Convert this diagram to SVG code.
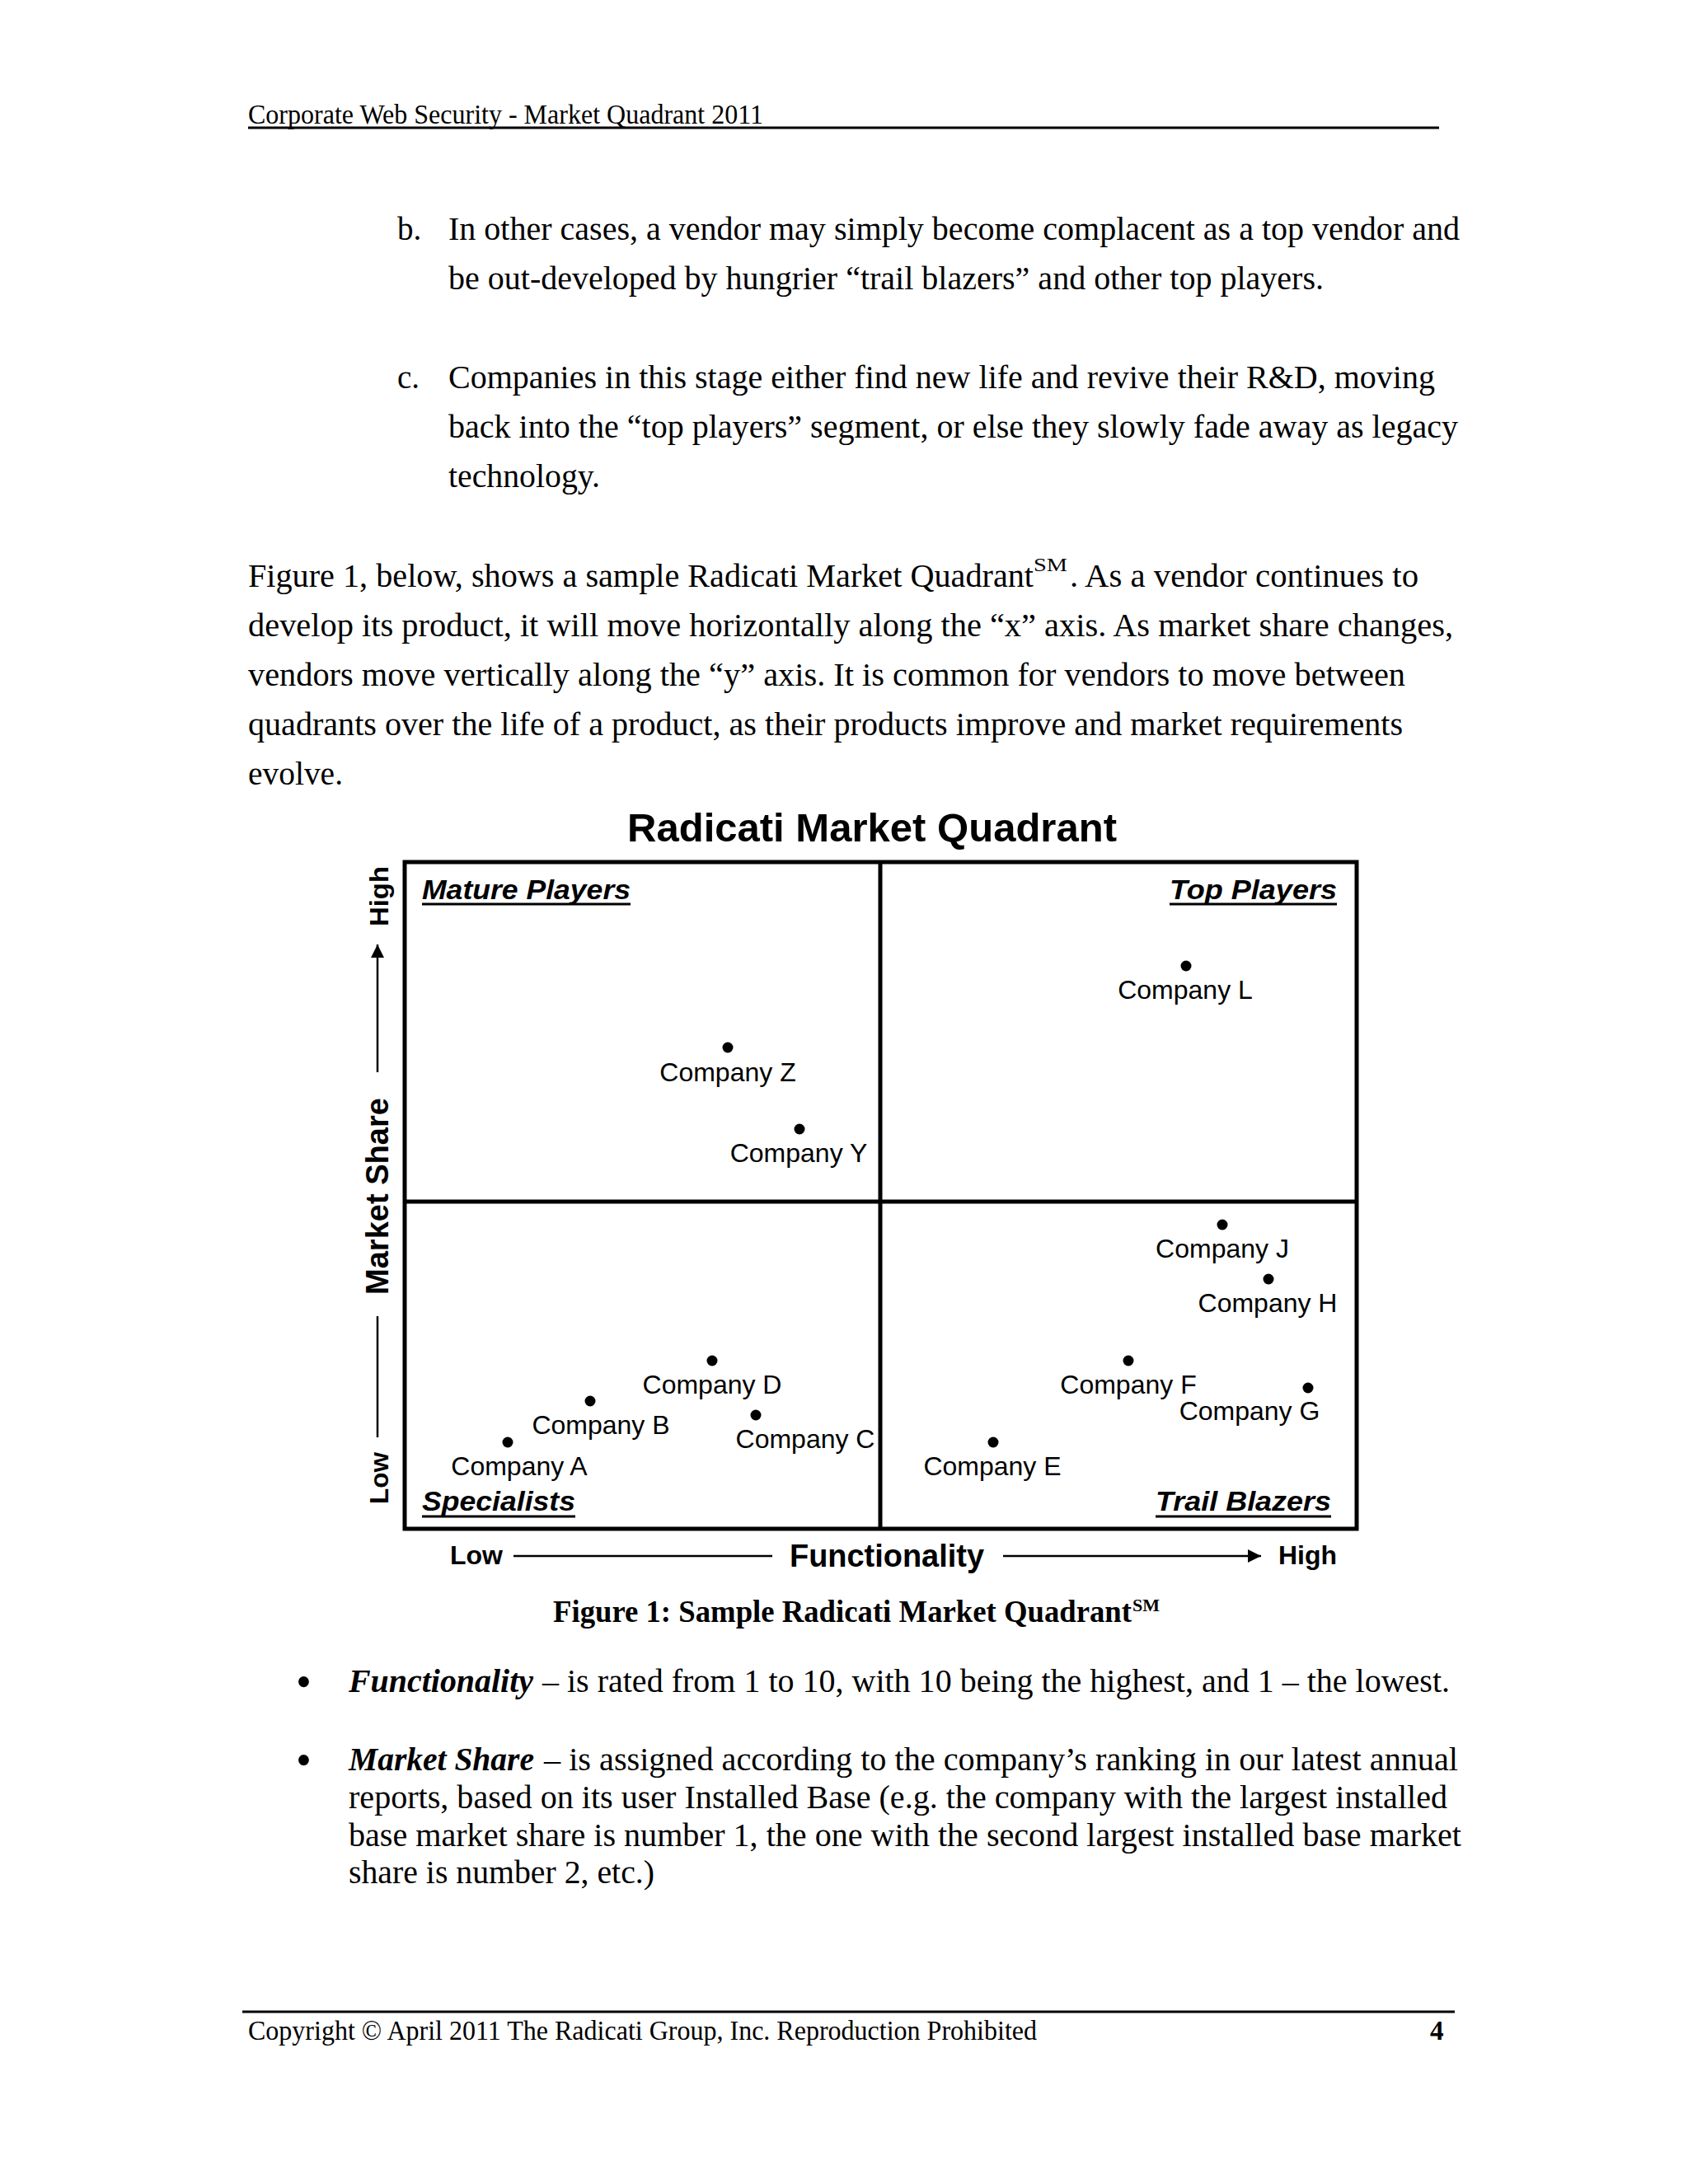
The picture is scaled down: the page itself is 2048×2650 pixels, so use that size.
<svg xmlns="http://www.w3.org/2000/svg" width="2048" height="2650" viewBox="0 0 2048 2650">
<defs>
<style>
.serif{font-family:"Liberation Serif","Times New Roman",serif;fill:#000}
.body{font-size:39px}
.small{font-size:33px}
.bul{font-size:54px}
.sans{font-family:"Liberation Sans",Arial,sans-serif;fill:#000}
.co{font-size:32px;text-anchor:middle}
.ql{font-size:34px;font-weight:bold;font-style:italic}
.ax{font-size:31px;font-weight:bold}
.axb{font-size:38px;font-weight:bold}
.rule{stroke:#000;stroke-width:3;fill:none}
.frame{stroke:#000;stroke-width:5;fill:none}
.ul{stroke:#000;stroke-width:3}
.axis{stroke:#000;stroke-width:2.5;fill:none}
.dot{fill:#000}
</style>
<marker id="arr" markerUnits="userSpaceOnUse" markerWidth="16" markerHeight="16" viewBox="0 0 16 16" refX="16" refY="8" orient="auto">
<path d="M0,0 L16,8 L0,16 z" fill="#000"/>
</marker>
</defs>
<rect x="0" y="0" width="2048" height="2650" fill="#fff"/>

<g id="header">
<text class="serif small" x="301" y="150" textLength="625" lengthAdjust="spacingAndGlyphs">Corporate Web Security - Market Quadrant 2011</text>
<line class="rule" x1="301" y1="155" x2="1746" y2="155"/>
</g>

<g id="body-text" class="serif body">
<text x="482" y="291">b.</text>
<text x="544" y="291" textLength="1227" lengthAdjust="spacingAndGlyphs">In other cases, a vendor may simply become complacent as a top vendor and</text>
<text x="544" y="351" textLength="1062" lengthAdjust="spacingAndGlyphs">be out-developed by hungrier “trail blazers” and other top players.</text>
<text x="482" y="471">c.</text>
<text x="544" y="471" textLength="1197" lengthAdjust="spacingAndGlyphs">Companies in this stage either find new life and revive their R&amp;D, moving</text>
<text x="544" y="531" textLength="1225" lengthAdjust="spacingAndGlyphs">back into the “top players” segment, or else they slowly fade away as legacy</text>
<text x="544" y="591" textLength="184" lengthAdjust="spacingAndGlyphs">technology.</text>
<text x="301" y="712" textLength="953" lengthAdjust="spacingAndGlyphs">Figure 1, below, shows a sample Radicati Market Quadrant</text>
<text x="1254" y="693" font-size="23" textLength="41" lengthAdjust="spacingAndGlyphs">SM</text>
<text x="1298" y="712" textLength="423" lengthAdjust="spacingAndGlyphs">.  As a vendor continues to</text>
<text x="301" y="772" textLength="1462" lengthAdjust="spacingAndGlyphs">develop its product, it will move horizontally along the “x” axis.  As market share changes,</text>
<text x="301" y="832" textLength="1404" lengthAdjust="spacingAndGlyphs">vendors move vertically along the “y” axis.  It is common for vendors to move between</text>
<text x="301" y="892" textLength="1401" lengthAdjust="spacingAndGlyphs">quadrants over the life of a product, as their products improve and market requirements</text>
<text x="301" y="952" textLength="115" lengthAdjust="spacingAndGlyphs">evolve.</text>
</g>

<g id="chart-title">
<text class="sans" x="761" y="1021" font-size="48" font-weight="bold" textLength="594" lengthAdjust="spacingAndGlyphs">Radicati Market Quadrant</text>
</g>

<g id="quadrant-frame">
<rect class="frame" x="491" y="1046" width="1155" height="809"/>
<line class="frame" x1="1068" y1="1046" x2="1068" y2="1855"/>
<line class="frame" x1="491" y1="1458" x2="1646" y2="1458"/>
</g>

<g id="q-mature">
<text class="sans ql" x="512" y="1091" textLength="253" lengthAdjust="spacingAndGlyphs">Mature Players</text>
<line class="ul" x1="512" y1="1097" x2="765" y2="1097"/>
</g>
<g id="q-top">
<text class="sans ql" x="1419" y="1091" textLength="203" lengthAdjust="spacingAndGlyphs">Top Players</text>
<line class="ul" x1="1419" y1="1097" x2="1622" y2="1097"/>
</g>
<g id="q-specialists">
<text class="sans ql" x="512" y="1833" textLength="186" lengthAdjust="spacingAndGlyphs">Specialists</text>
<line class="ul" x1="512" y1="1840" x2="698" y2="1840"/>
</g>
<g id="q-trail">
<text class="sans ql" x="1402" y="1833" textLength="213" lengthAdjust="spacingAndGlyphs">Trail Blazers</text>
<line class="ul" x1="1402" y1="1840" x2="1615" y2="1840"/>
</g>

<g id="company-z"><circle class="dot" cx="883" cy="1271" r="6.5"/><text class="sans co" x="883" y="1312">Company Z</text></g>
<g id="company-y"><circle class="dot" cx="970" cy="1370" r="6.5"/><text class="sans co" x="969" y="1410">Company Y</text></g>
<g id="company-l"><circle class="dot" cx="1439" cy="1172" r="6.5"/><text class="sans co" x="1438" y="1212">Company L</text></g>
<g id="company-d"><circle class="dot" cx="864" cy="1651" r="6.5"/><text class="sans co" x="864" y="1691">Company D</text></g>
<g id="company-b"><circle class="dot" cx="716" cy="1700" r="6.5"/><text class="sans co" x="729" y="1740">Company B</text></g>
<g id="company-c"><circle class="dot" cx="917" cy="1717" r="6.5"/><text class="sans co" x="977" y="1757">Company C</text></g>
<g id="company-a"><circle class="dot" cx="616" cy="1750" r="6.5"/><text class="sans co" x="630" y="1790">Company A</text></g>
<g id="company-j"><circle class="dot" cx="1483" cy="1486" r="6.5"/><text class="sans co" x="1483" y="1526">Company J</text></g>
<g id="company-h"><circle class="dot" cx="1539" cy="1552" r="6.5"/><text class="sans co" x="1538" y="1592">Company H</text></g>
<g id="company-f"><circle class="dot" cx="1369" cy="1651" r="6.5"/><text class="sans co" x="1369" y="1691">Company F</text></g>
<g id="company-g"><circle class="dot" cx="1587" cy="1684" r="6.5"/><text class="sans co" x="1516" y="1723">Company G</text></g>
<g id="company-e"><circle class="dot" cx="1205" cy="1750" r="6.5"/><text class="sans co" x="1204" y="1790">Company E</text></g>

<g id="y-axis-label" class="sans">
<text class="ax" transform="translate(471,1825) rotate(-90)" textLength="63" lengthAdjust="spacingAndGlyphs">Low</text>
<text class="axb" transform="translate(471,1571) rotate(-90)" textLength="239" lengthAdjust="spacingAndGlyphs">Market Share</text>
<text class="ax" transform="translate(471,1124) rotate(-90)" textLength="73" lengthAdjust="spacingAndGlyphs">High</text>
</g>
<g id="x-axis-label" class="sans">
<text class="ax" x="546" y="1898" textLength="64" lengthAdjust="spacingAndGlyphs">Low</text>
<text class="axb" x="958" y="1901" textLength="236" lengthAdjust="spacingAndGlyphs">Functionality</text>
<text class="ax" x="1551" y="1898" textLength="71" lengthAdjust="spacingAndGlyphs">High</text>
</g>

<g id="connectors">
<line class="axis" x1="458" y1="1744" x2="458" y2="1597"/>
<line class="axis" x1="458" y1="1301" x2="458" y2="1146" marker-end="url(#arr)"/>
<line class="axis" x1="623" y1="1888" x2="937" y2="1888"/>
<line class="axis" x1="1217" y1="1888" x2="1530" y2="1888" marker-end="url(#arr)"/>
</g>

<g id="caption" class="serif">
<text x="671" y="1968" font-size="37" font-weight="bold" textLength="702" lengthAdjust="spacingAndGlyphs">Figure 1: Sample Radicati Market Quadrant</text>
<text x="1374" y="1955" font-size="22" font-weight="bold" textLength="33" lengthAdjust="spacingAndGlyphs">SM</text>
</g>

<g id="bullets" class="serif body">
<text class="bul" x="359" y="2059">•</text>
<text x="423" y="2053" font-weight="bold" font-style="italic" textLength="224" lengthAdjust="spacingAndGlyphs">Functionality</text>
<text x="658" y="2053" textLength="1101" lengthAdjust="spacingAndGlyphs">– is rated from 1 to 10, with 10 being the highest, and 1 – the lowest.</text>
<text class="bul" x="359" y="2154">•</text>
<text x="423" y="2148" font-weight="bold" font-style="italic" textLength="225" lengthAdjust="spacingAndGlyphs">Market Share</text>
<text x="660" y="2148" textLength="1109" lengthAdjust="spacingAndGlyphs">– is assigned according to the company’s ranking in our latest annual</text>
<text x="423" y="2194" textLength="1333" lengthAdjust="spacingAndGlyphs">reports, based on its user Installed Base (e.g. the company with the largest installed</text>
<text x="423" y="2240" textLength="1350" lengthAdjust="spacingAndGlyphs">base market share is number 1, the one with the second largest installed base market</text>
<text x="423" y="2285" textLength="371" lengthAdjust="spacingAndGlyphs">share is number 2, etc.)</text>
</g>

<g id="footer">
<line class="rule" x1="294" y1="2441" x2="1765" y2="2441"/>
<text class="serif small" x="301" y="2475" textLength="957" lengthAdjust="spacingAndGlyphs">Copyright © April 2011 The Radicati Group, Inc. Reproduction Prohibited</text>
<text class="serif small" x="1735" y="2475" font-weight="bold">4</text>
</g>
</svg>
